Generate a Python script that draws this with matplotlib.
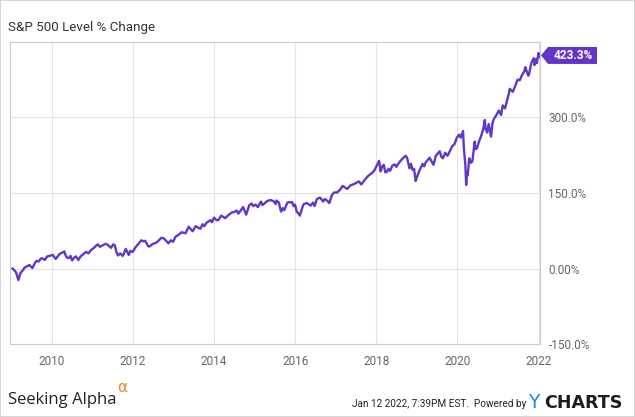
import pandas as pd
import matplotlib
matplotlib.use("Agg")
import matplotlib.pyplot as plt
import matplotlib.dates as mdates
from matplotlib.patches import Polygon, Rectangle

plt.rcParams['font.family'] = ['Roboto', 'DejaVu Sans']

# weekly-ish readings of the S&P 500 level, % change since Jan 2009
tarihler = [
    "2009-01-12", "2009-01-30", "2009-02-13", "2009-03-06", "2009-03-20", "2009-03-27",
    "2009-04-10", "2009-05-01", "2009-05-29", "2009-06-12", "2009-07-10", "2009-07-31",
    "2009-08-14", "2009-09-04", "2009-09-25", "2009-10-09", "2009-10-30", "2009-11-20",
    "2009-12-11",
    "2010-01-08", "2010-02-05", "2010-02-19", "2010-03-12", "2010-04-09", "2010-04-23",
    "2010-05-07", "2010-05-21", "2010-06-04", "2010-06-18", "2010-07-02", "2010-07-23",
    "2010-08-06", "2010-08-27", "2010-09-17", "2010-10-08", "2010-11-05", "2010-11-26",
    "2010-12-17",
    "2011-01-14", "2011-02-18", "2011-03-11", "2011-03-25", "2011-04-29", "2011-05-20",
    "2011-06-17", "2011-07-08", "2011-07-22", "2011-08-05", "2011-08-19", "2011-09-09",
    "2011-09-30", "2011-10-07", "2011-10-28", "2011-11-25", "2011-12-09", "2011-12-30",
    "2012-01-27", "2012-02-24", "2012-03-16", "2012-04-06", "2012-04-20", "2012-05-18",
    "2012-06-01", "2012-06-22", "2012-07-13", "2012-08-03", "2012-08-17", "2012-09-14",
    "2012-10-05", "2012-10-26", "2012-11-16", "2012-12-07", "2012-12-28",
    "2013-01-18", "2013-02-15", "2013-03-15", "2013-04-19", "2013-05-17", "2013-06-21",
    "2013-07-19", "2013-08-30", "2013-09-20", "2013-10-04", "2013-10-25", "2013-11-29",
    "2013-12-13", "2013-12-31",
    "2014-01-24", "2014-02-07", "2014-03-07", "2014-04-11", "2014-05-09", "2014-06-06",
    "2014-06-27", "2014-07-25", "2014-08-08", "2014-09-19", "2014-10-17", "2014-11-14",
    "2014-12-05", "2014-12-19",
    "2015-01-09", "2015-01-30", "2015-02-27", "2015-03-13", "2015-04-24", "2015-05-22",
    "2015-06-19", "2015-07-10", "2015-07-17", "2015-08-07", "2015-08-21", "2015-08-28",
    "2015-09-11", "2015-09-25", "2015-10-23", "2015-11-06", "2015-11-20", "2015-12-04",
    "2015-12-18", "2015-12-31",
    "2016-01-15", "2016-02-05", "2016-02-12", "2016-03-04", "2016-03-18", "2016-04-15",
    "2016-05-20", "2016-06-10", "2016-06-24", "2016-07-15", "2016-08-12", "2016-09-09",
    "2016-09-23", "2016-10-14", "2016-11-04", "2016-11-25", "2016-12-16",
    "2017-01-13", "2017-02-10", "2017-03-03", "2017-04-14", "2017-05-12", "2017-06-16",
    "2017-07-28", "2017-08-18", "2017-09-22", "2017-10-20", "2017-11-24", "2017-12-15",
    "2018-01-26", "2018-02-09", "2018-02-23", "2018-03-09", "2018-03-23", "2018-04-06",
    "2018-04-20", "2018-05-04", "2018-05-25", "2018-06-15", "2018-06-29", "2018-07-27",
    "2018-08-24", "2018-09-21", "2018-10-05", "2018-10-26", "2018-11-09", "2018-11-23",
    "2018-12-07", "2018-12-21",
    "2019-01-04", "2019-01-25", "2019-02-22", "2019-03-08", "2019-03-22", "2019-04-26",
    "2019-05-10", "2019-05-31", "2019-06-21", "2019-07-26", "2019-08-09", "2019-08-23",
    "2019-09-13", "2019-10-04", "2019-10-25", "2019-11-15", "2019-12-06", "2019-12-27",
    "2020-01-17", "2020-01-31", "2020-02-21", "2020-02-28", "2020-03-13", "2020-03-20",
    "2020-03-27", "2020-04-03", "2020-04-17", "2020-05-01", "2020-05-15", "2020-06-05",
    "2020-06-12", "2020-06-26", "2020-07-10", "2020-07-31", "2020-08-21", "2020-09-04",
    "2020-09-11", "2020-09-25", "2020-10-09", "2020-10-30", "2020-11-13", "2020-11-27",
    "2020-12-18",
    "2021-01-08", "2021-01-29", "2021-02-12", "2021-03-05", "2021-03-19", "2021-04-09",
    "2021-04-16", "2021-05-14", "2021-06-04", "2021-06-25", "2021-07-16", "2021-08-06",
    "2021-08-27", "2021-09-03", "2021-10-01", "2021-10-08", "2021-10-29", "2021-11-19",
    "2021-11-26", "2021-12-10", "2021-12-17", "2021-12-31",
    "2022-01-07", "2022-01-12",
]
degisim = [
    0, -4, -8, -23, -12, -8, -5, 2, 5, 7, 1, 10, 15, 14, 20, 20, 17, 24, 25,
    27, 19, 23, 29, 32, 34, 25, 21, 21, 25, 16, 22, 24, 17, 24, 28, 33, 30, 36,
    41, 48, 43, 45, 49, 47, 41, 48, 46, 33, 26, 30, 25, 27, 39, 27, 35, 33,
    43, 50, 56, 54, 55, 44, 44, 48, 50, 52, 55, 61, 60, 55, 50, 56, 53,
    63, 67, 72, 70, 83, 74, 84, 79, 88, 84, 91, 96, 92, 101,
    96, 96, 105, 100, 106, 111, 112, 115, 109, 122, 107, 126, 129, 124,
    127, 122, 133, 126, 134, 136, 134, 128, 135, 131, 118, 113, 120, 116, 131, 132,
    131, 132, 124, 127,
    113, 108, 105, 120, 128, 130, 125, 131, 124, 138, 141, 133, 138, 135, 130, 145, 151,
    151, 157, 164, 158, 165, 168, 173, 167, 177, 184, 190, 195,
    214, 193, 203, 206, 191, 192, 198, 194, 204, 207, 202, 211, 218, 224, 220, 199,
    208, 196, 198, 174,
    183, 195, 208, 203, 211, 220, 214, 206, 224, 233, 222, 219, 230, 224, 233, 243,
    247, 260,
    266, 260, 273, 240, 205, 166, 190, 185, 219, 210, 213, 252, 237, 239, 250, 262,
    277, 295, 278, 270, 287, 262, 290, 298, 305,
    314, 305, 324, 318, 330, 348, 357, 351, 362, 375, 374, 385, 392, 400, 383, 387,
    409, 418, 404, 416, 408, 428,
    420, 423.3,
]
son_deger = degisim[-1]

y_ticks = [-150, 0, 150, 300]
y_labels = ["-150.0%", "0.00%", "150.0%", "300.0%"]
x_ticks = ["2010", "2012", "2014", "2016", "2018", "2020", "2022"]

mor = "#6236c9"
gri = "#e3e3e3"

fig = plt.figure(figsize=(6.35, 4.17), dpi=100)
ax = fig.add_axes([10 / 635, 73 / 417, 530 / 635, 302 / 417])

ax.plot(pd.to_datetime(tarihler), degisim, color=mor, lw=1.7, solid_joinstyle="round")

ax.set_xlim(pd.Timestamp("2008-12-20"), pd.Timestamp("2022-01-14"))
ax.set_ylim(-150, 450)
ax.set_xticks([pd.Timestamp(y + "-01-01") for y in x_ticks])
ax.xaxis.set_major_formatter(mdates.DateFormatter("%Y"))
ax.set_yticks(y_ticks)
ax.set_yticklabels(y_labels)
ax.yaxis.tick_right()
ax.tick_params(length=0, labelsize=8.5, labelcolor="#666666")
ax.tick_params(axis="y", pad=6)
ax.tick_params(axis="x", pad=8)
ax.grid(True, color=gri, lw=0.8)
ax.set_axisbelow(True)
for s in ax.spines.values():
    s.set_color("#cccccc")
    s.set_linewidth(0.8)

fig.text(8 / 635, 1 - 27 / 417, "S&P 500 Level % Change", fontsize=9.6, color="#333333",
         va="center", ha="left")

# son deger etiketi
fig.canvas.draw()
px, py = ax.transData.transform((mdates.date2num(pd.Timestamp("2022-01-14")), son_deger))
x0 = px + 1
h = 8.5
tag = Polygon([[x0, py], [x0 + 7, py + h], [x0 + 56, py + h], [x0 + 56, py - h], [x0 + 7, py - h]],
              closed=True, transform=None, facecolor=mor, edgecolor="none", clip_on=False)
fig.add_artist(tag)
tx, ty = fig.transFigure.inverted().transform((x0 + 32, py))
fig.text(tx, ty, f"{son_deger:.1f}%", color="white", fontsize=8.5, fontweight="bold",
         ha="center", va="center")

# alt yazilar
fig.text(8 / 635, 1 - 400 / 417, "Seeking Alpha", fontsize=12, color="#222222",
         family=["Open Sans", "DejaVu Sans"], va="center", ha="left")
fig.text(117 / 635, 1 - 388 / 417, "α", fontsize=11, color="#f0841e",
         family=["DejaVu Sans"], va="center", ha="left")
fig.text(526 / 635, 1 - 404 / 417, "Jan 12 2022, 7:39PM EST.  Powered by", fontsize=7.2,
         color="#222222", va="center", ha="right")
fig.text(528 / 635, 1 - 403 / 417, "Y", fontsize=13.5, color="#1a8cdc",
         family=["DejaVu Sans"], va="center", ha="left")
fig.text(544 / 635, 1 - 403 / 417, "CHARTS", fontsize=12.6, color="#1d1d1d", fontweight="bold",
         family=["DejaVu Sans"], va="center", ha="left")

fig.add_artist(Rectangle((0, 0), 1, 1, transform=fig.transFigure, fill=False,
                         edgecolor="#d0d0d0", lw=1.2))

fig.savefig("out.png", dpi=100)
